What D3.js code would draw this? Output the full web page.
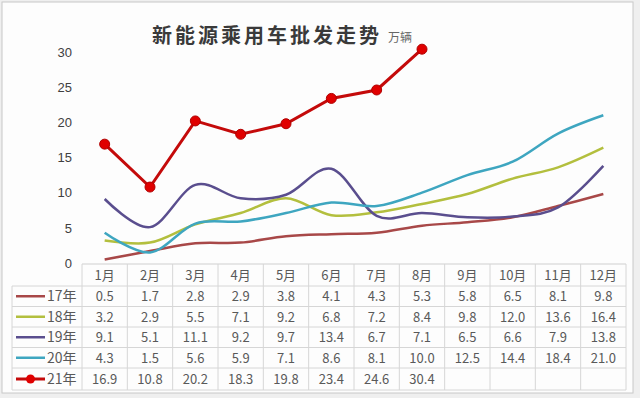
<!DOCTYPE html>
<html><head><meta charset="utf-8">
<script src="https://cdn.jsdelivr.net/npm/d3@7"></script>
<style>body{margin:0;background:#fff;}svg{display:block;}</style>
</head><body>
<svg id="c" width="640" height="398"></svg>
<script>
const months = ["1月","2月","3月","4月","5月","6月","7月","8月","9月","10月","11月","12月"];
const seriesNames = ["17年","18年","19年","20年","21年"];
const v17 = [0.5,1.7,2.8,2.9,3.8,4.1,4.3,5.3,5.8,6.5,8.1,9.8];
const v18 = [3.2,2.9,5.5,7.1,9.2,6.8,7.2,8.4,9.8,12.0,13.6,16.4];
const v19 = [9.1,5.1,11.1,9.2,9.7,13.4,6.7,7.1,6.5,6.6,7.9,13.8];
const v20 = [4.3,1.5,5.6,5.9,7.1,8.6,8.1,10.0,12.5,14.4,18.4,21.0];
const v21 = [16.9,10.8,20.2,18.3,19.8,23.4,24.6,30.4];
const yTicks = [0,5,10,15,20,25,30];
const colors = ["#a84848","#b3bf3e","#5a4e8e","#3ea6c0","#c40a0a"];
const allSeries = [v17,v18,v19,v20,v21];

const svg = d3.select("#c");
const FONT = "'Noto Sans CJK SC','Noto Sans',sans-serif";

// frame
svg.append("rect").attr("x",0).attr("y",0).attr("width",640).attr("height",398).attr("fill","#efefef");
svg.append("rect").attr("x",2).attr("y",2).attr("width",631).attr("height",391).attr("fill","#fdfdfd").attr("stroke","#c8c8c8").attr("stroke-width",1);

const pLeft = 82, pRight = 626, pTop = 52, pBase = 263;
const x = d3.scaleBand().domain(months).range([pLeft,pRight]).padding(0);
const bw = x.bandwidth();
const cx = m => x(m) + bw/2;
const y = d3.scaleLinear().domain([0,30]).range([pBase,pTop]);

// title
svg.append("text").attr("x",267).attr("y",43).attr("text-anchor","middle")
  .attr("font-family",FONT).attr("font-size",20).attr("font-weight",600)
  .attr("letter-spacing","3px").attr("fill","#3a3a3a").text("新能源乘用车批发走势");
svg.append("text").attr("x",388).attr("y",42)
  .attr("font-family",FONT).attr("font-size",12).attr("fill","#666").text("万辆");

// y axis labels
const yAxis = d3.axisLeft(y).tickValues(yTicks).tickSize(0).tickPadding(0);
const ya = svg.append("g").attr("transform","translate(72,0)").call(yAxis);
ya.select(".domain").remove();
ya.selectAll("text").attr("font-family","'Liberation Sans',Arial,sans-serif").attr("font-size",13).attr("fill","#404040");

// lines
const smooth = d3.line().x((d,i)=>cx(months[i])).y(d=>y(d)).curve(d3.curveCardinal.tension(0));
const straight = d3.line().x((d,i)=>cx(months[i])).y(d=>y(d));
allSeries.forEach((s,k)=>{
  if(k<4){
    svg.append("path").attr("d",smooth(s)).attr("fill","none").attr("stroke",colors[k]).attr("stroke-width",2.5);
  }
});
svg.append("path").attr("d",straight(v21)).attr("fill","none").attr("stroke",colors[4]).attr("stroke-width",3);
svg.selectAll("circle.m").data(v21).enter().append("circle").attr("class","m")
  .attr("cx",(d,i)=>cx(months[i])).attr("cy",d=>y(d)).attr("r",5).attr("fill","#e00000").attr("stroke","#b00000").attr("stroke-width",1);

// table
const rowH = [264,286,306.5,327,347.5,368,390];
const grid = "#d6d6d6";
const tg = svg.append("g");
rowH.forEach((yy,i)=>{
  tg.append("line").attr("x1", i===0 ? pLeft : 12).attr("x2",pRight).attr("y1",yy).attr("y2",yy)
    .attr("stroke", i===0 ? "#cfcfcf" : grid).attr("stroke-width",1);
});
months.forEach(m=>{
  tg.append("line").attr("x1",x(m)).attr("x2",x(m)).attr("y1",264).attr("y2",390).attr("stroke",grid);
});
tg.append("line").attr("x1",pRight).attr("x2",pRight).attr("y1",264).attr("y2",390).attr("stroke",grid);
tg.append("line").attr("x1",12).attr("x2",12).attr("y1",286).attr("y2",390).attr("stroke",grid);

const TF = "'Noto Sans CJK SC','Liberation Sans',sans-serif";
months.forEach(m=>{
  tg.append("text").attr("x",cx(m)).attr("y",280).attr("text-anchor","middle")
    .attr("font-family",TF).attr("font-size",13).attr("fill","#595959").text(m);
});
allSeries.forEach((s,k)=>{
  const y0 = rowH[k+1], y1 = rowH[k+2], ym = (y0+y1)/2;
  tg.append("line").attr("x1",16).attr("x2",45).attr("y1",ym).attr("y2",ym).attr("stroke",colors[k]).attr("stroke-width",k===4?3:2.5);
  if(k===4) tg.append("circle").attr("cx",30.5).attr("cy",ym).attr("r",4.5).attr("fill","#e00000");
  tg.append("text").attr("x",47).attr("y",ym+5).attr("font-family",TF).attr("font-size",14).attr("fill","#595959").text(seriesNames[k]);
  s.forEach((v,i)=>{
    tg.append("text").attr("x",cx(months[i])).attr("y",ym+5).attr("text-anchor","middle")
      .attr("font-family",TF).attr("font-size",13).attr("fill","#595959").text(v.toFixed(1));
  });
});
</script>
</body></html>
